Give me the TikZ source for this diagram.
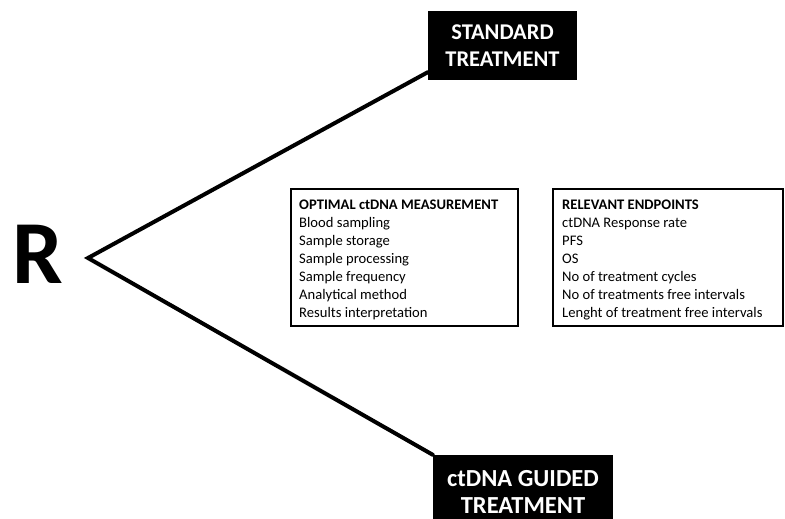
\documentclass[tikz,border=0pt]{standalone}
\usepackage{fontspec}
\setmainfont{Carlito}
\begin{document}
\begin{tikzpicture}[x=1pt,y=-1pt,
  armbox/.style={fill=black,text=white,align=center,inner sep=0pt},
  listbox/.style={draw=black,line width=2.5pt,inner sep=0pt},
  listline/.style={anchor=base west,inner sep=0pt,font=\fontsize{14.6}{18}\selectfont},
  listhead/.style={listline,font=\fontsize{14.6}{18}\selectfont\bfseries},
  arm/.style={line width=4pt,line cap=round}]
\useasboundingbox (0,0) rectangle (785,519);
% randomisation symbol
\node[anchor=base west,inner sep=0pt,font=\fontsize{90}{90}\selectfont\bfseries] (r) at (12,283) {R};
\coordinate (apex) at (88,258);
% treatment arms
\node[armbox,font=\fontsize{22.5}{27}\selectfont\bfseries,minimum width=149pt,minimum height=69pt] (std) at (502.5,45.5) {STANDARD\\TREATMENT};
\node[armbox,font=\fontsize{24.5}{27}\selectfont\bfseries,minimum width=180pt,minimum height=74pt] (gd) at (523,492) {ctDNA GUIDED\\TREATMENT};
\draw[arm] ([yshift=8pt]std.south west) -- (apex) -- (gd.north west);
% measurement box
\node[listbox,minimum width=227pt,minimum height=137pt] (mbox) at (404.5,257.5) {};
\node[listhead] (m0) at (299,209) {OPTIMAL ctDNA MEASUREMENT};
\foreach \t [count=\i] in {Blood sampling,Sample storage,Sample processing,Sample frequency,Analytical method,Results interpretation}
  \node[listline] (m\i) at (299,{209+18*\i}) {\t};
% endpoints box
\node[listbox,minimum width=230pt,minimum height=137pt] (ebox) at (668,257.5) {};
\node[listhead] (e0) at (562,209) {RELEVANT ENDPOINTS};
\foreach \t [count=\i] in {ctDNA Response rate,PFS,OS,No of treatment cycles,No of treatments free intervals,Lenght of treatment free intervals}
  \node[listline] (e\i) at (562,{209+18*\i}) {\t};
\end{tikzpicture}
\end{document}
